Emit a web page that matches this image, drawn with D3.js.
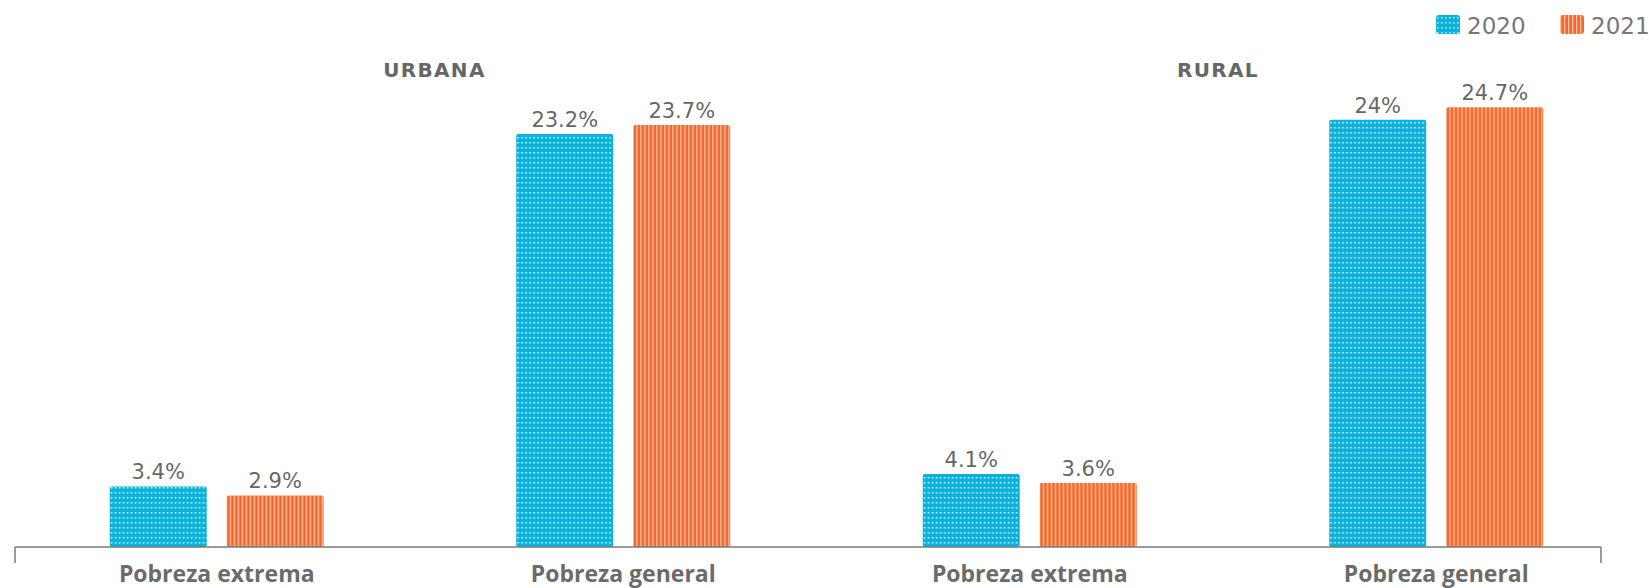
<!DOCTYPE html>
<html>
<head>
<meta charset="utf-8">
<script src="https://cdn.jsdelivr.net/npm/d3@7"></script>
<style>
  body { margin: 0; background: #fff; overflow: hidden; }
  svg text { font-family: "DejaVu Sans", sans-serif; }
  svg text.categoria { font-family: "Open Sans", sans-serif; }
</style>
</head>
<body>
<svg id="chart" width="1649" height="588"></svg>
<script>
// datos
const categorias = ['Pobreza extrema', 'Pobreza general', 'Pobreza extrema', 'Pobreza general'];
const anios = ['2020', '2021'];
const valores2020 = [3.4, 23.2, 4.1, 24];
const valores2021 = [2.9, 23.7, 3.6, 24.7];
const zonas = ['URBANA', 'RURAL'];

const base = 547;

const svg = d3.select('#chart');

// patrones de relleno
const defs = svg.append('defs');

const puntos = defs.append('pattern')
  .attr('id', 'puntos')
  .attr('patternUnits', 'userSpaceOnUse')
  .attr('width', 4)
  .attr('height', 5);
puntos.append('rect').attr('width', 4).attr('height', 5).attr('fill', '#0bb3dc');
puntos.append('rect').attr('x', 1).attr('y', 2).attr('width', 1.5).attr('height', 1.5)
  .attr('fill', '#fff').attr('opacity', 0.85);

const rayas = defs.append('pattern')
  .attr('id', 'rayas')
  .attr('patternUnits', 'userSpaceOnUse')
  .attr('width', 4)
  .attr('height', 4);
rayas.append('rect').attr('width', 4).attr('height', 4).attr('fill', '#f2692b');
rayas.append('rect').attr('x', 0).attr('width', 1.3).attr('height', 4).attr('fill', '#fbc0a3');

const rellenos = { '2020': 'url(#puntos)', '2021': 'url(#rayas)' };

// escalas
const x = d3.scaleBand()
  .domain(d3.range(categorias.length))
  .range([13.5, 1639.5]);

const xAnio = d3.scaleBand()
  .domain(anios)
  .range([0, 214])
  .paddingInner(0.171);

const y = d3.scaleLinear()
  .domain([0, 24.7])
  .range([base, 107.3]);

const centro = i => x(i) + x.bandwidth() / 2;

const filas = categorias.map((c, i) => ({
  i: i,
  categoria: c,
  valores: [
    { anio: '2020', valor: valores2020[i] },
    { anio: '2021', valor: valores2021[i] }
  ]
}));

// barras
const grupos = svg.append('g')
  .selectAll('g')
  .data(filas)
  .join('g')
  .attr('transform', d => `translate(${centro(d.i) - 107},0)`);

grupos.selectAll('rect')
  .data(d => d.valores)
  .join('rect')
  .attr('x', d => xAnio(d.anio))
  .attr('y', d => y(d.valor))
  .attr('width', xAnio.bandwidth())
  .attr('height', d => base - y(d.valor))
  .attr('rx', 2)
  .attr('fill', d => rellenos[d.anio]);

// etiquetas de valor
grupos.selectAll('text')
  .data(d => d.valores)
  .join('text')
  .attr('x', d => xAnio(d.anio) + xAnio.bandwidth() / 2)
  .attr('y', d => y(d.valor) - 7)
  .attr('text-anchor', 'middle')
  .attr('font-size', 21)
  .attr('fill', '#676767')
  .text(d => d.valor + '%');

// eje
const eje = svg.append('g').attr('stroke', '#7a7a7a').attr('stroke-width', 1.5);
eje.append('line').attr('x1', 15).attr('x2', 1601).attr('y1', base).attr('y2', base);
eje.append('line').attr('x1', 15).attr('x2', 15).attr('y1', base).attr('y2', 563);
eje.append('line').attr('x1', 1601).attr('x2', 1601).attr('y1', base).attr('y2', 563);

svg.append('g')
  .selectAll('text')
  .data(filas)
  .join('text')
  .attr('class', 'categoria')
  .attr('x', d => centro(d.i))
  .attr('y', 582)
  .attr('text-anchor', 'middle')
  .attr('font-size', 23)
  .attr('font-weight', 'bold')
  .attr('fill', '#6b6b6b')
  .text(d => d.categoria);

// encabezados de zona
const desplazamiento = [14.5, -15];
svg.append('g')
  .selectAll('text')
  .data(zonas)
  .join('text')
  .attr('x', (d, i) => (centro(i * 2) + centro(i * 2 + 1)) / 2 + desplazamiento[i])
  .attr('y', 77)
  .attr('text-anchor', 'middle')
  .attr('font-size', 20)
  .attr('font-weight', 'bold')
  .attr('letter-spacing', 1.3)
  .attr('fill', '#666')
  .text(d => d);

// leyenda
const leyendaX = [1436, 1560];
const leyenda = svg.append('g')
  .selectAll('g')
  .data(anios)
  .join('g')
  .attr('transform', (d, i) => `translate(${leyendaX[i]},15)`);

leyenda.append('rect')
  .attr('width', 24)
  .attr('height', 19)
  .attr('rx', 3)
  .attr('fill', d => rellenos[d]);

leyenda.append('text')
  .attr('x', 31)
  .attr('y', 19)
  .attr('font-size', 23)
  .attr('fill', '#777')
  .text(d => d);
</script>
</body>
</html>
